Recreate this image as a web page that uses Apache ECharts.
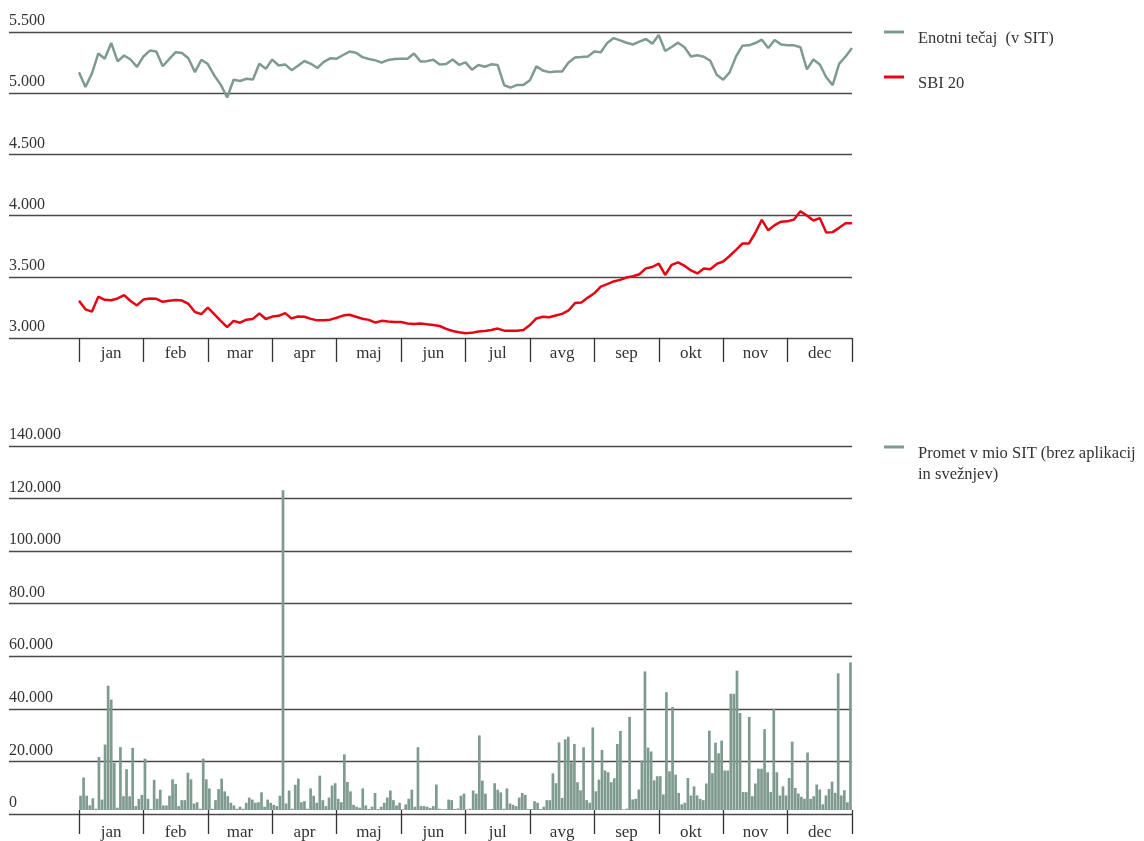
<!DOCTYPE html>
<html>
<head>
<meta charset="utf-8">
<script src="https://cdn.jsdelivr.net/npm/echarts@6/dist/echarts.min.js"></script>
<style>
  html, body { margin: 0; padding: 0; background: #fff; }
  #chart { width: 1144px; height: 841px; }
</style>
</head>
<body>
<div id="chart"></div>
<script>
// mesečne oznake
var months = ['jan', 'feb', 'mar', 'apr', 'maj', 'jun', 'jul', 'avg', 'sep', 'okt', 'nov', 'dec'];

// oznake osi
var tecajTicks = ['3.000', '3.500', '4.000', '4.500', '5.000', '5.500'];
var prometTicks = ['0', '20.000', '40.000', '60.000', '80.00', '100.000', '120.000', '140.000'];

// Enotni tečaj (v SIT), 10 točk na mesec
var enotniTecaj = [
  5172, 5050, 5160, 5325, 5281, 5410, 5260, 5308, 5275, 5215,
  5300, 5348, 5340, 5220, 5278, 5335, 5328, 5283, 5172, 5273,
  5238, 5145, 5070, 4965, 5110, 5100, 5118, 5112, 5240, 5200,
  5275, 5226, 5235, 5188, 5225, 5263, 5240, 5206, 5256, 5285,
  5282, 5312, 5340, 5330, 5295, 5280, 5268, 5250, 5272, 5280,
  5281, 5281, 5325, 5260, 5262, 5273, 5235, 5238, 5275, 5232,
  5252, 5192, 5230, 5216, 5236, 5230, 5065, 5045, 5068, 5068,
  5105, 5219, 5185, 5172, 5178, 5178, 5250, 5292, 5295, 5300,
  5340, 5335, 5410, 5450, 5432, 5412, 5398, 5421, 5443, 5405,
  5475, 5345, 5377, 5413, 5375, 5300, 5310, 5298, 5265, 5150,
  5110, 5170, 5300, 5388, 5391, 5410, 5437, 5370, 5435, 5398,
  5391, 5391, 5375, 5195, 5275, 5235, 5130, 5066, 5240, 5300,
  5369
];

// SBI 20
var sbi20 = [
  3305, 3234, 3215, 3338, 3312, 3308, 3323, 3350, 3302, 3266,
  3314, 3323, 3320, 3296, 3304, 3310, 3306, 3278, 3212, 3195,
  3248, 3195, 3140, 3088, 3140, 3125, 3150, 3156, 3200, 3155,
  3175, 3181, 3203, 3160, 3176, 3174, 3156, 3144, 3145, 3150,
  3165, 3183, 3190, 3174, 3157, 3148, 3126, 3140, 3135, 3131,
  3130, 3119, 3114, 3119, 3112, 3106, 3098, 3075, 3057, 3047,
  3038, 3042, 3053, 3058, 3065, 3077, 3060, 3060, 3060, 3066,
  3106, 3160, 3173, 3170, 3184, 3197, 3225, 3285, 3290, 3330,
  3365, 3420, 3440, 3462, 3475, 3494, 3504, 3521, 3569, 3580,
  3608, 3515, 3598, 3618, 3590, 3552, 3527, 3568, 3562, 3605,
  3625, 3670, 3720, 3772, 3772, 3860, 3965, 3880, 3922, 3950,
  3953, 3968, 4035, 4000, 3960, 3980, 3861, 3865, 3900, 3938,
  3937
];

// Promet v mio SIT, 21 trgovalnih dni na mesec
var promet = [
  5500, 12500, 5500, 1800, 4500, 500, 20400, 4000, 25200, 47800, 42500, 18100, 900, 24200, 5300, 15700, 5300, 23900, 1500, 4300, 5800,
  19750, 4300, 400, 11600, 4300, 7800, 1760, 1760, 5500, 11800, 10060, 1500, 3800, 3800, 14340, 11800, 2500, 3000, 500, 19750, 11800,
  8300, 500, 3800, 8050, 12080, 7170, 5300, 2770, 1760, 500, 1260, 500, 2770, 4780, 4000, 2770, 3000, 6800, 1260, 4000, 2770,
  2000, 1500, 5500, 123000, 2500, 7500, 500, 9700, 12080, 3000, 3400, 500, 8300, 5500, 2770, 13200, 3800, 1500, 4780, 9400, 10300,
  4300, 3000, 21400, 10800, 7170, 2000, 1260, 880, 8300, 1760, 400, 1260, 6540, 400, 1260, 2770, 4780, 7500, 3800, 1760, 2770,
  300, 2140, 4300, 7800, 1260, 24150, 1500, 1500, 1260, 800, 1500, 9800, 500, 300, 300, 4000, 3800, 400, 600, 5500, 6300,
  300, 500, 7500, 6300, 28700, 11300, 6300, 300, 400, 10300, 7800, 6800, 500, 8300, 2500, 2000, 1500, 4780, 6540, 5800, 400,
  400, 3400, 2770, 400, 1260, 3800, 3800, 14100, 10300, 26000, 4650, 27200, 28200, 18300, 25400, 10700, 7600, 24100, 3800, 2800, 31750,
  7200, 11700, 23100, 15200, 14500, 10700, 12200, 25400, 30400, 250, 500, 35800, 4060, 4300, 7900, 19000, 53300, 24000, 22500, 11400, 13000,
  13000, 6000, 45300, 14900, 39600, 13600, 6600, 2200, 2800, 12300, 5600, 9100, 5600, 4300, 3800, 10200, 30500, 14200, 25900, 21800, 26700,
  15200, 15200, 44700, 44700, 53600, 37300, 6900, 6900, 35800, 5300, 10200, 15900, 15900, 31100, 14500, 6900, 38900, 14500, 5600, 9100, 5600,
  12300, 26300, 8500, 6350, 5100, 4300, 22100, 4300, 5300, 9800, 7900, 2200, 5600, 8100, 10900, 6600, 52600, 5600, 7600, 3000, 56800
];

var lineDays = enotniTecaj.map(function (v, i) { return i; });
var barDays = promet.map(function (v, i) { return i; });

var font = 'Liberation Serif';
var gridColor = '#4a4a4a';
var green = '#7f9b8f';
var red = '#e30613';

var myChart = echarts.init(document.getElementById('chart'));

function monthAxis(gridIndex, margin) {
  return {
    type: 'category', gridIndex: gridIndex, data: months, boundaryGap: true,
    axisLine: { show: false },
    axisTick: { show: true, interval: 0, length: 24, lineStyle: { color: '#333', width: 1.3 } },
    axisLabel: { interval: 0, margin: margin, color: '#333', fontFamily: font, fontSize: 17 },
    splitLine: { show: false }
  };
}

function hiddenCat(gridIndex, data, gap) {
  return { type: 'category', gridIndex: gridIndex, data: data, boundaryGap: gap, show: false };
}

// legenda: ikona poravnana z vrhom besedila (prazna prva vrstica)
var legendText = { fontFamily: font, fontSize: 16.5, color: '#333', padding: [0, 0, 0, 9] };

var option = {
  backgroundColor: '#fff',
  animation: false,
  grid: [
    { left: 9, width: 843, top: 32, height: 306 },
    { left: 79, width: 773, top: 32, height: 306 },
    { left: 9, width: 843, top: 446, height: 368 },
    { left: 79, width: 773, top: 446, height: 368 }
  ],
  legend: [
    {
      data: ['Enotni tečaj  (v SIT)'], left: 884, top: 17, padding: 0,
      icon: 'rect', itemWidth: 20, itemHeight: 3,
      formatter: function (name) { return '\n' + name; },
      textStyle: Object.assign({ lineHeight: 13 }, legendText)
    },
    {
      data: ['SBI 20'], left: 884, top: 62, padding: 0,
      icon: 'rect', itemWidth: 20, itemHeight: 3,
      formatter: function (name) { return '\n' + name; },
      textStyle: Object.assign({ lineHeight: 13 }, legendText)
    },
    {
      data: ['Promet v mio SIT (brez aplikacij in svežnjev)'], left: 884, top: 421, padding: 0,
      icon: 'rect', itemWidth: 20, itemHeight: 3,
      formatter: function () { return '{s| }\n{t|Promet v mio SIT (brez aplikacij}\n{t|in svežnjev)}'; },
      textStyle: Object.assign({
        rich: {
          s: { lineHeight: 34, fontSize: 10 },
          t: { lineHeight: 21, fontFamily: font, fontSize: 16.5, color: '#333' }
        }
      }, legendText)
    }
  ],
  xAxis: [
    { type: 'value', gridIndex: 0, min: 0, max: 1, show: false },
    monthAxis(1, 7),
    hiddenCat(1, lineDays, false),
    { type: 'value', gridIndex: 2, min: 0, max: 1, show: false },
    monthAxis(3, 14),
    hiddenCat(3, barDays, ['9%', '9%'])
  ],
  yAxis: [
    {
      type: 'value', gridIndex: 0, min: 3000, max: 5500, interval: 500,
      axisLine: { show: false }, axisTick: { show: false },
      axisLabel: {
        inside: true, margin: 0, verticalAlign: 'bottom', padding: [0, 0, 3, 0],
        color: '#333', fontFamily: font, fontSize: 16,
        formatter: function (v) { return tecajTicks[Math.round((v - 3000) / 500)]; }
      },
      splitLine: { lineStyle: { color: gridColor, width: 1.3 } }
    },
    { type: 'value', gridIndex: 1, min: 3000, max: 5500, interval: 500, show: false, splitLine: { show: false } },
    {
      type: 'value', gridIndex: 2, min: 0, max: 140000, interval: 20000,
      axisLine: { show: false }, axisTick: { show: false },
      axisLabel: {
        inside: true, margin: 0, verticalAlign: 'bottom', padding: [0, 0, 3, 0],
        color: '#333', fontFamily: font, fontSize: 16,
        formatter: function (v) { return prometTicks[Math.round(v / 20000)]; }
      },
      splitLine: { lineStyle: { color: gridColor, width: 1.3 } }
    },
    { type: 'value', gridIndex: 3, min: 0, max: 140000, interval: 20000, show: false, splitLine: { show: false } }
  ],
  series: [
    {
      name: 'Enotni tečaj  (v SIT)', type: 'line', xAxisIndex: 2, yAxisIndex: 1,
      data: enotniTecaj, showSymbol: false, color: green,
      lineStyle: { width: 2.5, color: green }
    },
    {
      name: 'SBI 20', type: 'line', xAxisIndex: 2, yAxisIndex: 1,
      data: sbi20, showSymbol: false, color: red,
      lineStyle: { width: 2.5, color: red }
    },
    {
      name: 'Promet v mio SIT (brez aplikacij in svežnjev)', type: 'bar', xAxisIndex: 5, yAxisIndex: 3,
      data: promet, color: green, barCategoryGap: '12%',
      itemStyle: { color: green }
    }
  ]
};

myChart.setOption(option);
</script>
</body>
</html>
